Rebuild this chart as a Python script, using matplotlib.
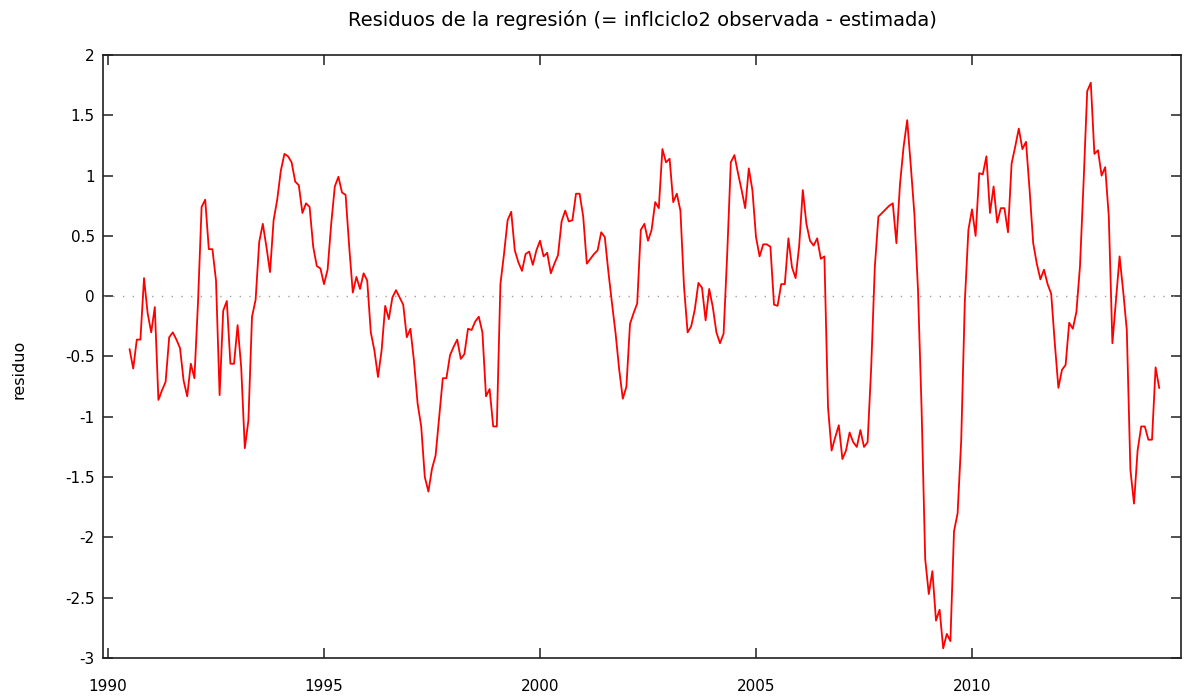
import matplotlib
matplotlib.use("Agg")
import matplotlib.pyplot as plt
import numpy as np

# residuos mensuales, desde 1990:07 hasta 2014:05
inicio = 1990 + 6 / 12
residuo = [
    -0.44, -0.60, -0.36, -0.36, 0.15, -0.14, -0.30, -0.09, -0.86, -0.78,
    -0.71, -0.34, -0.30, -0.36, -0.43, -0.70, -0.83, -0.56, -0.68, -0.05,
    0.74, 0.80, 0.39, 0.39, 0.13, -0.82, -0.12, -0.04, -0.56, -0.56,
    -0.24, -0.59, -1.26, -1.03, -0.17, -0.03, 0.45, 0.60, 0.41, 0.20,
    0.63, 0.80, 1.04, 1.18, 1.16, 1.11, 0.95, 0.92, 0.69, 0.77,
    0.74, 0.41, 0.25, 0.23, 0.10, 0.22, 0.60, 0.91, 0.99, 0.86,
    0.84, 0.41, 0.03, 0.16, 0.06, 0.19, 0.13, -0.30, -0.45, -0.67,
    -0.45, -0.08, -0.19, -0.01, 0.05, -0.01, -0.07, -0.34, -0.27, -0.54,
    -0.89, -1.08, -1.50, -1.62, -1.43, -1.32, -1.00, -0.68, -0.68, -0.49,
    -0.42, -0.36, -0.52, -0.48, -0.27, -0.28, -0.21, -0.17, -0.30, -0.83,
    -0.77, -1.08, -1.08, 0.10, 0.35, 0.63, 0.70, 0.38, 0.28, 0.21,
    0.35, 0.37, 0.26, 0.38, 0.46, 0.33, 0.36, 0.19, 0.27, 0.34,
    0.62, 0.71, 0.62, 0.63, 0.85, 0.85, 0.66, 0.27, 0.31, 0.35,
    0.38, 0.53, 0.49, 0.20, -0.06, -0.31, -0.61, -0.85, -0.75, -0.23,
    -0.14, -0.06, 0.55, 0.60, 0.46, 0.55, 0.78, 0.73, 1.22, 1.11,
    1.14, 0.78, 0.85, 0.71, 0.08, -0.30, -0.25, -0.11, 0.11, 0.07,
    -0.20, 0.06, -0.09, -0.30, -0.39, -0.31, 0.35, 1.11, 1.17, 1.02,
    0.88, 0.73, 1.06, 0.88, 0.49, 0.33, 0.43, 0.43, 0.41, -0.07,
    -0.08, 0.10, 0.10, 0.48, 0.24, 0.15, 0.42, 0.88, 0.60, 0.46,
    0.42, 0.48, 0.31, 0.33, -0.92, -1.28, -1.17, -1.07, -1.35, -1.28,
    -1.13, -1.21, -1.25, -1.11, -1.25, -1.21, -0.59, 0.24, 0.66, 0.69,
    0.72, 0.75, 0.77, 0.44, 0.93, 1.24, 1.46, 1.08, 0.68, 0.05,
    -0.94, -2.18, -2.47, -2.28, -2.69, -2.60, -2.92, -2.80, -2.86, -1.95,
    -1.80, -1.20, -0.05, 0.55, 0.72, 0.50, 1.02, 1.01, 1.16, 0.69,
    0.91, 0.61, 0.73, 0.73, 0.53, 1.10, 1.24, 1.39, 1.22, 1.28,
    0.88, 0.44, 0.27, 0.14, 0.22, 0.10, 0.02, -0.39, -0.76, -0.61,
    -0.57, -0.22, -0.27, -0.13, 0.25, 0.95, 1.70, 1.77, 1.18, 1.21,
    1.00, 1.07, 0.66, -0.39, -0.03, 0.33, 0.04, -0.28, -1.44, -1.72,
    -1.28, -1.08, -1.08, -1.19, -1.19, -0.59, -0.76,
]
fechas = inicio + np.arange(len(residuo)) / 12

xticks = [1990, 1995, 2000, 2005, 2010]
yticks = [-3, -2.5, -2, -1.5, -1, -0.5, 0, 0.5, 1, 1.5, 2]
ytick_labels = ["-3", "-2.5", "-2", "-1.5", "-1", "-0.5", "0", "0.5", "1", "1.5", "2"]

fig = plt.figure(figsize=(11.87, 6.98), dpi=100)
ax = fig.add_axes([103 / 1187, 1 - 658 / 698, 1078 / 1187, 603 / 698])

ax.axhline(0, color="#a0a0a0", linewidth=1.0, linestyle=(0, (1, 6)))
ax.plot(fechas, residuo, color="#ff0000", linewidth=1.3)

ax.set_xlim(1989.884, 2014.838)
ax.set_ylim(-3, 2)
ax.set_xticks(xticks)
ax.set_yticks(yticks)
ax.set_yticklabels(ytick_labels)

for s in ax.spines.values():
    s.set_linewidth(1.2)
    s.set_color("#202020")
ax.tick_params(direction="in", length=7, width=1.1, color="#202020",
               top=True, right=True, labelsize=11)
ax.tick_params(axis="y", pad=6)
ax.tick_params(axis="x", pad=15)

ax.set_title("Residuos de la regresión (= inflciclo2 observada - estimada)",
             fontsize=14, pad=21)
ax.set_ylabel("residuo", fontsize=11.5)
ax.yaxis.set_label_coords(-0.071, 0.478)

fig.savefig("out.png", dpi=100)
